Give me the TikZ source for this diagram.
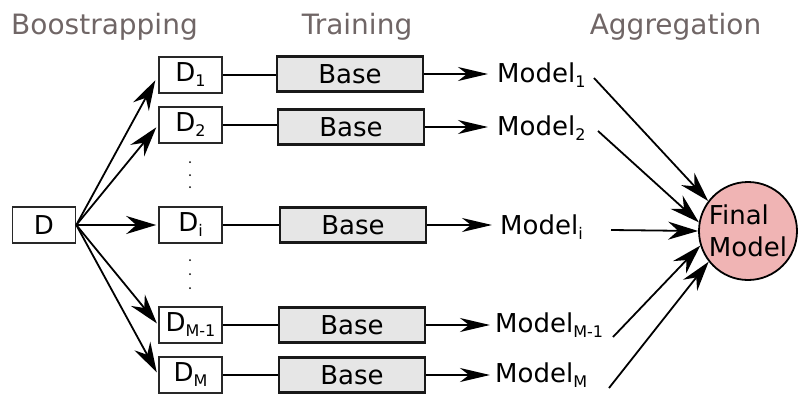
\documentclass[tikz,border=0pt]{standalone}
\usepackage{fontspec}
\setmainfont{DejaVu Sans}
\usetikzlibrary{arrows.meta}
\definecolor{headgray}{RGB}{112,102,102}
\definecolor{basefill}{RGB}{230,230,230}
\definecolor{finalfill}{RGB}{240,180,180}
\definecolor{dborder}{RGB}{40,40,40}
\newcommand{\mysub}[1]{\raisebox{-5pt}{\fontsize{16}{16}\selectfont #1}}
\tikzset{
  heading/.style={anchor=base, text=headgray, font=\fontsize{28}{30}\selectfont},
  dbox/.style={draw=dborder, line width=1.6pt, minimum width=63pt, minimum height=36pt, inner sep=0pt, font=\fontsize{26}{28}\selectfont},
  basebox/.style={draw=black!90, fill=basefill, line width=2.2pt, minimum width=146pt, minimum height=35pt, inner sep=0pt, font=\fontsize{26}{28}\selectfont},
  modeltext/.style={anchor=west, inner sep=0pt, font=\fontsize{26}{28}\selectfont},
  finalnode/.style={circle, draw=black, fill=finalfill, line width=1.8pt, minimum size=98pt, inner sep=0pt, font=\fontsize{26}{32}\selectfont, align=left},
  conn/.style={line width=1.8pt},
  arr/.style={line width=1.8pt, -{Stealth[length=30pt, width=18pt, inset=10pt]}},
  arrb/.style={line width=1.8pt, -{Stealth[length=30pt, width=14pt, inset=9pt]}},
  dotmark/.style={circle, fill=black, inner sep=0pt, minimum size=2pt}
}
\begin{document}
\begin{tikzpicture}[x=1pt, y=-1pt]
\useasboundingbox (0,0) rectangle (798,394);
% headings
\node[heading] (h1) at (104.5,34) {Boostrapping};
\node[heading] (h2) at (357,34) {Training};
\node[heading] (h3) at (675.5,34) {Aggregation};
% source
\node[dbox] (D) at (44,225) {D};
% bootstrap samples
\node[dbox] (D1) at (190.5,75) {D\mysub{1}};
\node[dbox] (D2) at (190.5,125) {D\mysub{2}};
\node[dbox] (Di) at (190.5,225) {D\mysub{i}};
\node[dbox] (DM1) at (190.5,325) {D\mysub{M-1}};
\node[dbox] (DM) at (190.5,375) {D\mysub{M}};
% base learners
\node[basebox] (B1) at (350,74) {Base};
\node[basebox] (B2) at (351,127) {Base};
\node[basebox] (Bi) at (353,225) {Base};
\node[basebox] (BM1) at (352,325) {Base};
\node[basebox] (BM) at (352,375) {Base};
% models
\node[modeltext] (M1) at (497,75) {Model\mysub{1}};
\node[modeltext] (M2) at (497,128) {Model\mysub{2}};
\node[modeltext] (Mi) at (500,227) {Model\mysub{i}};
\node[modeltext] (MM1) at (495,325) {Model\mysub{M-1}};
\node[modeltext] (MM) at (495,375) {Model\mysub{M}};
% final
\node[finalnode] (F) at (748,231) {Final\\Model};
% dots
\node[dotmark] (d1) at (190,162) {};
\node[dotmark] (d2) at (190,175) {};
\node[dotmark] (d3) at (190,187) {};
\node[dotmark] (d4) at (190,260) {};
\node[dotmark] (d5) at (190,274) {};
\node[dotmark] (d6) at (190,288) {};
% arrows D -> Dk
\draw[arr, shorten >=6pt] (D.east) -- (D1.west);
\draw[arr, shorten >=3pt] (D.east) -- (D2.west);
\draw[arr, shorten >=2pt] (D.east) -- (Di.west);
\draw[arr, shorten >=2pt] (D.east) -- (DM1.west);
\draw[arr, shorten >=3pt] (D.east) -- (DM.west);
% Dk -- Base
\draw[conn] (D1.east) -- (D1.east -| B1.west);
\draw[conn] (D2.east) -- (D2.east -| B2.west);
\draw[conn] (Di.east) -- (Di.east -| Bi.west);
\draw[conn] (DM1.east) -- (DM1.east -| BM1.west);
\draw[conn] (DM.east) -- (DM.east -| BM.west);
% Base -> Model
\draw[arrb, shorten >=9pt] (B1.east) -- (B1.east -| M1.west);
\draw[arrb, shorten >=9pt] (B2.east) -- (B2.east -| M2.west);
\draw[arrb, shorten >=8pt] (Bi.east) -- (Bi.east -| Mi.west);
\draw[arrb, shorten >=5pt] (BM1.east) -- (BM1.east -| MM1.west);
\draw[arrb, shorten >=5pt] (BM.east) -- (BM.east -| MM.west);
% Model -> Final
\coordinate (s1) at (594,78);
\coordinate (s2) at (598,131);
\coordinate (si) at (611,230);
\coordinate (sM1) at (613,337);
\coordinate (sM) at (609,388);
\draw[arr] (s1) -- (F.143);
\draw[arr] (s2) -- (F.170);
\draw[arr] (si) -- (F.180);
\draw[arr] (sM1) -- (F.197);
\draw[arr] (sM) -- (F.218);
\end{tikzpicture}
\end{document}
